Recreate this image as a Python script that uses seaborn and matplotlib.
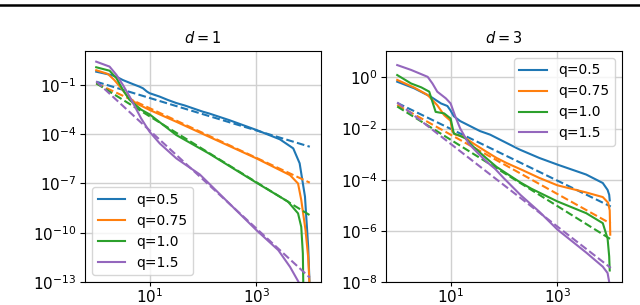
import numpy as np
import pandas as pd
import matplotlib
matplotlib.use("Agg")
import matplotlib.pyplot as plt
import seaborn as sns
from matplotlib.lines import Line2D
from matplotlib.ticker import NullLocator

# ---------------- data (values read as log10 exponents) ----------------
series_labels = ["q=0.5", "q=0.75", "q=1.0", "q=1.5"]
series_colors = ["#1f77b4", "#ff7f0e", "#2ca02c", "#9467bd"]

# d = 1 panel, solid curves: (log10 x, log10 y)
d1_q05_lx = [0, 0.28, 0.41, 0.5, 0.69, 0.81, 0.875, 0.95, 1.0, 1.19, 1.34, 1.5, 1.66, 2.0, 2.11, 2.5, 3.0, 3.44, 3.69, 3.81, 3.91, 3.97, 4.0]
d1_q05_ly = [-0.19, -0.39, -0.55, -0.7, -0.95, -1.1, -1.2, -1.4, -1.5, -1.71, -1.91, -2.1, -2.25, -2.63, -2.73, -3.15, -3.74, -4.31, -4.86, -5.77, -7.8, -10.86, -13.5]
d1_q075_lx = [0, 0.22, 0.34, 0.47, 0.59, 0.75, 1.0, 1.5, 2.11, 3.0, 3.63, 3.78, 3.84, 3.92, 3.97, 4.0]
d1_q075_ly = [-0.1, -0.33, -0.7, -1.2, -1.71, -2.12, -2.52, -3.24, -4.15, -5.47, -6.49, -7.0, -8.0, -9.84, -11.5, -13.5]
d1_q10_lx = [0, 0.25, 0.38, 0.5, 0.625, 0.84, 1.0, 1.5, 2.11, 3.0, 3.59, 3.78, 3.84, 3.87, 3.88]
d1_q10_ly = [0.08, -0.13, -0.59, -1.3, -1.91, -2.5, -2.79, -4.05, -5.17, -6.95, -8.1, -8.82, -9.64, -11.26, -13.5]
d1_q15_lx = [0, 0.25, 0.38, 0.5, 0.625, 0.84, 1.0, 1.19, 1.5, 1.94, 3.0, 3.41, 3.63, 3.79, 3.85]
d1_q15_ly = [0.42, 0.12, -0.39, -1.0, -1.7, -3.03, -3.85, -4.56, -5.47, -6.45, -9.84, -11.06, -12.08, -13.0, -13.5]
# d = 1 panel, dashed reference lines (endpoints)
d1_ref_lx = [0, 4]
d1_ref_q05 = [-0.8, -4.76]
d1_ref_q075 = [-0.9, -6.95]
d1_ref_q10 = [-0.9, -8.93]
d1_ref_q15 = [-0.78, -12.73]

# d = 3 panel, solid curves
d3_q05_lx = [0, 0.32, 0.63, 0.82, 0.94, 1.0, 1.06, 1.18, 1.37, 1.55, 1.74, 1.92, 2.11, 2.29, 2.66, 3.0, 3.54, 3.85, 3.94, 3.97, 3.98]
d3_q05_ly = [-0.17, -0.43, -0.76, -1.02, -1.12, -1.3, -1.52, -1.71, -1.91, -2.1, -2.24, -2.43, -2.63, -2.82, -3.15, -3.41, -3.8, -4.13, -4.4, -4.59, -4.81]
d3_q075_lx = [0, 0.32, 0.57, 0.75, 0.88, 1.0, 1.03, 1.09, 1.25, 1.43, 1.68, 1.86, 2.05, 2.35, 2.66, 3.0, 3.54, 3.85, 3.95, 3.98, 3.99]
d3_q075_ly = [-0.1, -0.4, -0.69, -1.09, -1.48, -1.7, -2.1, -2.24, -2.33, -2.59, -2.92, -3.15, -3.35, -3.63, -3.93, -4.22, -4.5, -4.68, -4.9, -5.2, -6.15]
d3_q10_lx = [0, 0.26, 0.45, 0.6, 0.66, 0.72, 0.88, 1.0, 1.06, 1.15, 1.28, 1.43, 1.68, 1.86, 2.3, 2.51, 3.0, 3.54, 3.85, 3.94, 3.97, 3.98]
d3_q10_ly = [0.09, -0.24, -0.39, -0.56, -0.96, -1.35, -1.41, -1.61, -2.2, -2.26, -2.39, -2.72, -3.18, -3.5, -4.1, -4.35, -4.85, -5.31, -5.7, -6.3, -7.0, -7.55]
d3_q15_lx = [0, 0.26, 0.57, 0.66, 0.75, 0.91, 1.0, 1.09, 1.18, 1.25, 1.34, 1.49, 1.68, 1.83, 2.0, 2.31, 2.66, 3.0, 3.54, 3.85, 3.94, 3.97, 3.99]
d3_q15_ly = [0.48, 0.29, 0.02, -0.24, -0.56, -0.82, -1.02, -1.54, -2.0, -2.26, -2.59, -2.92, -3.31, -3.57, -3.95, -4.6, -5.25, -5.95, -6.85, -7.4, -7.65, -8.0, -8.5]
# d = 3 panel, dashed reference lines
d3_ref_lx = [0, 4]
d3_ref_q05 = [-1.0, -5.05]
d3_ref_q075 = [-1.08, -5.72]
d3_ref_q10 = [-1.14, -6.33]
d3_ref_q15 = [-0.98, -7.45]

panels = [
    dict(title="$d=1$",
         solid=[(d1_q05_lx, d1_q05_ly), (d1_q075_lx, d1_q075_ly), (d1_q10_lx, d1_q10_ly), (d1_q15_lx, d1_q15_ly)],
         ref_x=d1_ref_lx, ref=[d1_ref_q05, d1_ref_q075, d1_ref_q10, d1_ref_q15],
         ylim=(1e-13, 10 ** 1.07), yticks=[1e-13, 1e-10, 1e-7, 1e-4, 1e-1], legend_loc="lower left"),
    dict(title="$d=3$",
         solid=[(d3_q05_lx, d3_q05_ly), (d3_q075_lx, d3_q075_ly), (d3_q10_lx, d3_q10_ly), (d3_q15_lx, d3_q15_ly)],
         ref_x=d3_ref_lx, ref=[d3_ref_q05, d3_ref_q075, d3_ref_q10, d3_ref_q15],
         ylim=(1e-8, 10 ** 1.03), yticks=[1e-8, 1e-6, 1e-4, 1e-2, 1e0], legend_loc="upper right"),
]

fig = plt.figure(figsize=(6.4, 3.05), dpi=100)
ax_rects = [[85 / 640, 23 / 305, 236 / 640, 231 / 305],
            [386 / 640, 23 / 305, 236 / 640, 231 / 305]]

for rect, p in zip(ax_rects, panels):
    ax = fig.add_axes(rect)
    ax.set_xscale("log")
    ax.set_yscale("log")
    for i, lab in enumerate(series_labels):
        lx, ly = p["solid"][i]
        df = pd.DataFrame({"x": 10.0 ** np.array(lx), "y": 10.0 ** np.array(ly)})
        sns.lineplot(data=df, x="x", y="y", ax=ax, color=series_colors[i], lw=1.5,
                     estimator=None, sort=False, label=lab)
        dr = pd.DataFrame({"x": 10.0 ** np.array(p["ref_x"]), "y": 10.0 ** np.array(p["ref"][i])})
        sns.lineplot(data=dr, x="x", y="y", ax=ax, color=series_colors[i], lw=1.5,
                     linestyle="--", estimator=None, sort=False, legend=False)
    ax.set_xlim(10 ** -0.21, 10 ** 4.21)
    ax.set_ylim(*p["ylim"])
    ax.set_xticks([10, 1000])
    ax.set_yticks(p["yticks"])
    ax.xaxis.set_minor_locator(NullLocator())
    ax.yaxis.set_minor_locator(NullLocator())
    ax.grid(True, color="#d0d0d0", lw=1.0)
    ax.set_axisbelow(True)
    ax.set_xlabel("")
    ax.set_ylabel("")
    ax.set_title(p["title"], fontsize=10.5)
    ax.tick_params(labelsize=11)
    ax.tick_params(axis="y", pad=2.5)
    ax.tick_params(axis="x", length=3, pad=0.8)
    h, l = ax.get_legend_handles_labels()
    ax.legend(h, l, loc=p["legend_loc"], fontsize=10)

fig.add_artist(Line2D([0, 1], [1 - 5 / 305, 1 - 5 / 305], transform=fig.transFigure,
                      color="black", lw=1.8))

fig.savefig("out.png", dpi=100)
